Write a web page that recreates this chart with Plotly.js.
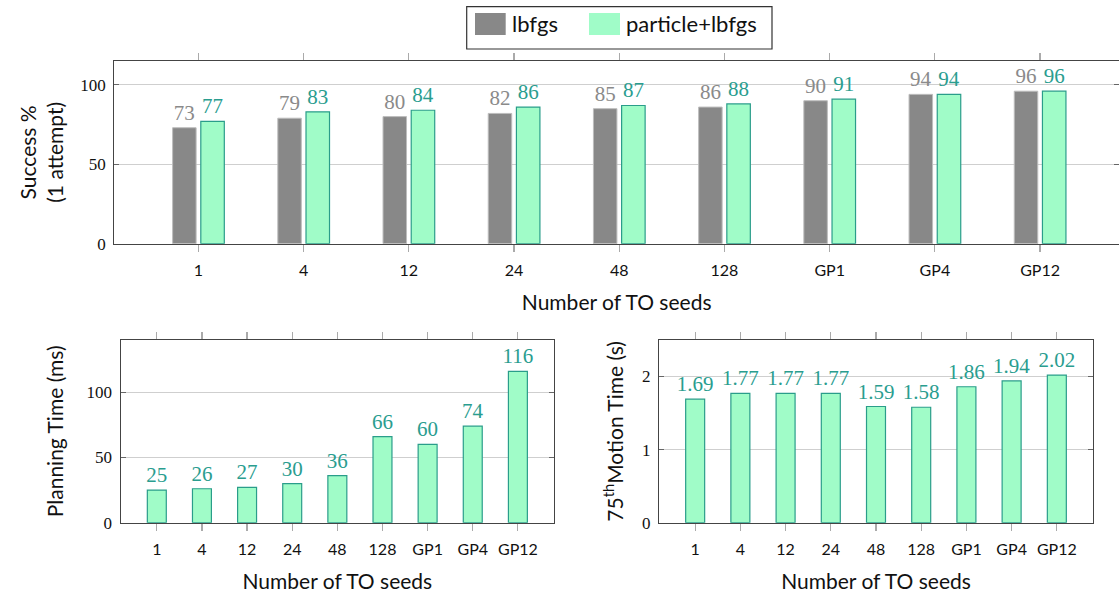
<!DOCTYPE html>
<html>
<head>
<meta charset="utf-8">
<script src="https://cdn.plot.ly/plotly-3.0.1.min.js"></script>
<style>html,body{margin:0;padding:0;background:#fff;}#chart{width:1119px;height:596px;}</style>
</head>
<body>
<div id="chart"></div>
<script>
// ---- data ----
const categories = ['1','4','12','24','48','128','GP1','GP4','GP12'];
const successLbfgs = [73,79,80,82,85,86,90,94,96];
const successParticle = [77,83,84,86,87,88,91,94,96];
const planningTime = [25,26,27,30,36,66,60,74,116];
const motionTime = [1.69,1.77,1.77,1.77,1.59,1.58,1.86,1.94,2.02];
const seriesNames = ['lbfgs','particle+lbfgs'];

// ---- styles ----
const W = 1119, H = 596;
const SANS = 'Lato, "Open Sans", sans-serif';
const SERIF = '"Liberation Serif", "DejaVu Serif", serif';
const grayFill = '#888888', grayLine = '#bdbdbd', grayText = '#8a8a8a';
const tealFill = '#a0fcc8', tealLine = '#2a9d8a', tealText = '#2a9d8f';
const px = v => v / W;
const py = v => 1 - v / H;

const valFont = (c) => ({family: SERIF, size: 21, color: c});

const traces = [
  {type:'bar', name: seriesNames[0], x: categories, y: successLbfgs, xaxis:'x', yaxis:'y',
   width: 0.2234, offset: -0.2457,
   marker:{color: grayFill, line:{color: grayLine, width: 1}},
   texttemplate:'%{y}', textposition:'outside', textangle:0, constraintext:'none',
   textfont: valFont(grayText), cliponaxis:false, showlegend:false, hoverinfo:'skip'},
  {type:'bar', name: seriesNames[1], x: categories, y: successParticle, xaxis:'x', yaxis:'y',
   width: 0.2234, offset: 0.0223,
   marker:{color: tealFill, line:{color: tealLine, width: 1.2}},
   texttemplate:'%{y}', textposition:'outside', textangle:0, constraintext:'none',
   textfont: valFont(tealText), cliponaxis:false, showlegend:false, hoverinfo:'skip'},
  {type:'bar', name: seriesNames[1], x: categories, y: planningTime, xaxis:'x2', yaxis:'y2',
   width: 0.42,
   marker:{color: tealFill, line:{color: tealLine, width: 1.2}},
   texttemplate:'%{y}', textposition:'outside', textangle:0, constraintext:'none',
   textfont: valFont(tealText), cliponaxis:false, showlegend:false, hoverinfo:'skip'},
  {type:'bar', name: seriesNames[1], x: categories, y: motionTime, xaxis:'x3', yaxis:'y3',
   width: 0.42,
   marker:{color: tealFill, line:{color: tealLine, width: 1.2}},
   texttemplate:'%{y:.2f}', textposition:'outside', textangle:0, constraintext:'none',
   textfont: valFont(tealText), cliponaxis:false, showlegend:false, hoverinfo:'skip'}
];

const xBase = (anchor, domain, range, title, standoff) => ({
  anchor, domain, range, type:'category', categoryorder:'array', categoryarray: categories,
  showline:true, linecolor:'#444', linewidth:1.2, mirror:'ticks',
  ticks:'outside', ticklen:7, tickcolor:'#aaaaaa', tickwidth:1.2,
  tickfont:{family: SANS, size:16, color:'#111'}, ticklabelstandoff: 5,
  showgrid:false, zeroline:false, automargin:false, fixedrange:true,
  title:{text:title, font:{family: SANS, size:21, color:'#111'}, standoff: standoff}
});
const yBase = (anchor, domain, range, dtick, title, standoff) => ({
  anchor, domain, range, dtick, tick0:0,
  showline:true, linecolor:'#444', linewidth:1.2, mirror:'ticks',
  ticks:'inside', ticklen:5, tickcolor:'#666', tickwidth:1.2,
  tickfont:{family: SERIF, size:17, color:'#111'}, ticklabelstandoff: 4,
  showgrid:true, gridcolor:'#cfcfcf', gridwidth:1, zeroline:false, automargin:false, fixedrange:true,
  title:{text:title, font:{family: SANS, size:21, color:'#111'}, standoff: standoff}
});

const layout = {
  width: W, height: H,
  margin:{l:0, r:0, t:0, b:0},
  paper_bgcolor:'#fff', plot_bgcolor:'#fff',
  showlegend:false,
  xaxis: xBase('y', [px(114.3), 1], [-0.8, 8.75], 'Number of TO seeds', 17),
  yaxis: yBase('x', [py(243.7), py(61)], [0, 115], 50, 'Success %<br>(1 attempt)', 10),
  xaxis2: xBase('y2', [px(120.7), px(554)], [-0.8, 8.8], 'Number of TO seeds', 17),
  yaxis2: yBase('x2', [py(522.7), py(340)], [0, 140], 50, 'Planning Time (ms)', 17),
  xaxis3: xBase('y3', [px(659), px(1093)], [-0.8, 8.8], 'Number of TO seeds', 17),
  yaxis3: yBase('x3', [py(522.7), py(340)], [0, 2.5], 1, '75<sup>th</sup>Motion Time (s)', 12),
  shapes: [
    {type:'rect', xref:'paper', yref:'paper', x0:px(466.7), x1:px(772), y0:py(49), y1:py(6.7),
     line:{color:'#333', width:1.2}, fillcolor:'#fff'},
    {type:'rect', xref:'paper', yref:'paper', x0:px(475), x1:px(505.7), y0:py(35), y1:py(13),
     line:{width:0}, fillcolor: grayFill},
    {type:'rect', xref:'paper', yref:'paper', x0:px(589), x1:px(620), y0:py(35), y1:py(13),
     line:{width:0}, fillcolor: tealFill}
  ],
  annotations: [
    {xref:'paper', yref:'paper', x:px(510), y:py(24), xanchor:'left', yanchor:'middle', showarrow:false,
     text: seriesNames[0], font:{family: SANS, size:22, color:'#111'}},
    {xref:'paper', yref:'paper', x:px(624), y:py(24), xanchor:'left', yanchor:'middle', showarrow:false,
     text: seriesNames[1], font:{family: SANS, size:22, color:'#111'}}
  ]
};

Plotly.newPlot('chart', traces, layout, {staticPlot:true, displayModeBar:false});
</script>
</body>
</html>
